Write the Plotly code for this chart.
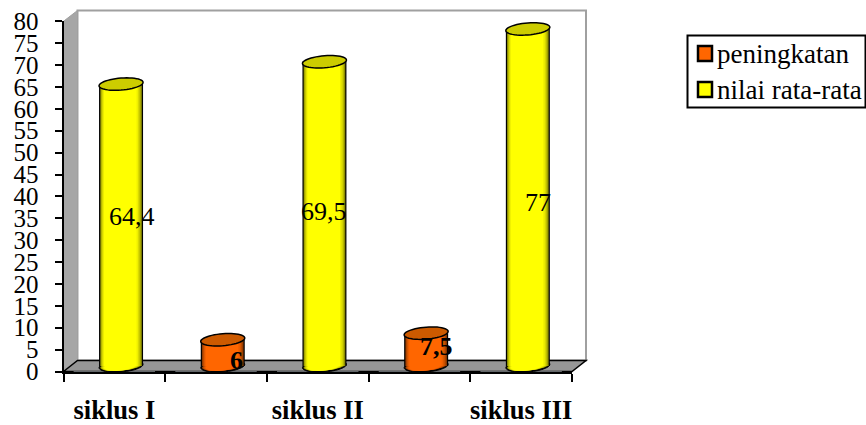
import numpy as np
import plotly.graph_objects as go

categories = ["siklus I", " ", "siklus II", "  ", "siklus III"]
peningkatan = [None, 6, None, 7.5, None]
nilai_rata = [64.4, None, 69.5, None, 77]
series_names = ["peningkatan", "nilai rata-rata"]
peningkatan_labels = [None, "6", None, "7,5", None]
nilai_labels = ["64,4", None, "69,5", None, "77"]
y_ticks = list(range(0, 85, 5))

W, H = 866, 425
FONT = "Liberation Serif"


def fx(p):
    return p / W


def fy(p):
    return 1 - p / H


X0, X1, Y0, Y80 = 63.5, 572.0, 371.5, 21.3
DX, DY = 6.7, -5.5
UNIT_Y = (Y0 - Y80) / 80
UNIT_X = (X1 - X0) / 5
LOW = -5  # extra room under the base so the round cylinder bottoms are not clipped

BAR_PX = 44.0
# (left inset px, right inset px, shade 0 = dark edge .. 1 = bright body)
LAYERS = [(1.2, 1.2, 0.55), (2.0, 2.4, 0.72), (3.0, 3.6, 0.85), (4.0, 5.0, 0.94), (5.0, 6.5, 1.0)]
YELLOW = (255, 255, 0)
ORANGE = (255, 102, 0)


def shade(c, f):
    return "rgb(%d,%d,%d)" % tuple(int(v * f) for v in c)


def ellipse_path(cx, cy, a_px, b_px=6.0, tilt_px=1.7):
    t = np.linspace(0, 2 * np.pi, 49)[:-1]
    xs = cx + a_px / UNIT_X * np.cos(t)
    ys = cy + (b_px * np.sin(t) + tilt_px * np.cos(t)) / UNIT_Y
    return "M" + " L".join(f"{x:.4f},{y:.4f}" for x, y in zip(xs, ys)) + " Z"


fig = go.Figure()

# carries the category axis
fig.add_trace(go.Bar(x=categories, y=[0] * 5, xaxis="x", yaxis="y", showlegend=False,
                     marker_color="rgba(0,0,0,0)", hoverinfo="skip"))

idx = list(range(len(categories)))
shapes = []
annotations = []


def poly(points, fill, line=None, lw=0):
    d = "M" + " L".join(f"{fx(a):.5f},{fy(b):.5f}" for a, b in points) + " Z"
    shapes.append(dict(type="path", path=d, xref="paper", yref="paper", layer="below",
                       fillcolor=fill, line=dict(color=line or fill, width=lw)))


# 3-D walls and floor
poly([(77.5, 10.5), (586, 10.5), (586, 360.5), (77.5, 360.5)], "white", "#a0a0a0", 2)
poly([(63.5, 21.3), (77.5, 10.5), (77.5, 360.5), (63.5, 371.5)], "#a6a6a6", "#a0a0a0", 1)
poly([(63.5, 371.5), (77.5, 360.5), (586, 360.5), (572, 371.5)], "#969696", "#000000", 1.5)


for values, color, top in ((peningkatan, ORANGE, "#cc5a00"), (nilai_rata, YELLOW, "#cccc00")):
    fig.add_trace(go.Bar(x=idx, y=values, xaxis="x2", yaxis="y2", width=BAR_PX / UNIT_X,
                         marker=dict(color="black", line_width=0), showlegend=False, hoverinfo="skip"))
    for i, v in zip(idx, values):
        if v is None:
            continue
        shapes.append(dict(type="path", path=ellipse_path(i, 0, BAR_PX / 2), xref="x2", yref="y2",
                           layer="below", fillcolor="black", line=dict(color="black", width=1)))
    for li, ri, f in LAYERS:
        w = BAR_PX - li - ri
        off = (-BAR_PX / 2 + li) / UNIT_X
        fig.add_trace(go.Bar(x=idx, y=values, xaxis="x2", yaxis="y2", width=w / UNIT_X, offset=off,
                             marker=dict(color=shade(color, f), line_width=0), showlegend=False,
                             hoverinfo="skip"))
        for i, v in zip(idx, values):
            if v is None:
                continue
            c = i + ((li - ri) / 2) / UNIT_X
            shapes.append(dict(type="path", path=ellipse_path(c, 0, w / 2, b_px=4.6, tilt_px=1.7),
                               xref="x2", yref="y2", layer="below", fillcolor=shade(color, f), line_width=0))
    for i, v in zip(idx, values):
        if v is None:
            continue
        shapes.append(dict(type="path", path=ellipse_path(i, v, BAR_PX / 2), xref="x2", yref="y2",
                           layer="above", fillcolor=top, line=dict(color="black", width=1.5)))

# data labels
offsets = {0: (11, 9), 2: (0, 2), 4: (10, -5)}
for i, (lab, v) in enumerate(zip(nilai_labels, nilai_rata)):
    if lab:
        annotations.append(dict(x=i, y=v / 2, xref="x2", yref="y2", text=lab, showarrow=False,
                                xshift=offsets[i][0], yshift=offsets[i][1],
                                font=dict(family=FONT, size=26, color="black")))
offsets_p = {1: (14, -8), 3: (10, 3)}
for i, (lab, v) in enumerate(zip(peningkatan_labels, peningkatan)):
    if lab:
        annotations.append(dict(x=i, y=v / 2, xref="x2", yref="y2", text="<b>%s</b>" % lab, showarrow=False,
                                xshift=offsets_p[i][0], yshift=offsets_p[i][1],
                                font=dict(family=FONT, size=26, color="black")))

# legend box
shapes.append(dict(type="rect", xref="paper", yref="paper", x0=fx(687.5), x1=fx(865.5), y0=fy(35.5), y1=fy(107.5),
                   fillcolor="white", line=dict(color="black", width=2), layer="above"))
for name, col, py0, py1 in ((series_names[0], "#ff6600", 46, 61), (series_names[1], "#ffff00", 82, 97)):
    shapes.append(dict(type="rect", xref="paper", yref="paper", x0=fx(698), x1=fx(712), y0=fy(py0), y1=fy(py1),
                       fillcolor=col, line=dict(color="black", width=2.5), layer="above"))
    annotations.append(dict(x=fx(715), y=fy((py0 + py1) / 2 + 1), xref="paper", yref="paper", xanchor="left",
                            yanchor="middle", text=name, showarrow=False,
                            font=dict(family=FONT, size=27, color="black")))

fig.update_layout(
    width=W, height=H, autosize=False, margin=dict(l=0, r=0, t=0, b=0, pad=0, autoexpand=False),
    paper_bgcolor="white", plot_bgcolor="rgba(0,0,0,0)", barmode="overlay", showlegend=False,
    font=dict(family=FONT, color="black"),
    shapes=shapes, annotations=annotations,
    xaxis=dict(domain=[fx(X0), fx(X1)], type="category", categoryorder="array", categoryarray=categories,
               range=[-0.5, 4.5], showgrid=False, zeroline=False, showline=True, linecolor="black", linewidth=2,
               ticks="outside", ticklen=8, tickwidth=2, tickcolor="black", tickson="boundaries", dtick=1,
               tickangle=0, tickfont=dict(family=FONT, size=26.5, color="black", weight="bold"),
               ticklabelstandoff=14, anchor="y"),
    yaxis=dict(domain=[fy(Y0), fy(Y80)], range=[0, 80], tickmode="array", tickvals=y_ticks,
               ticktext=[str(t) for t in y_ticks], showgrid=False, zeroline=False, showline=True,
               linecolor="black", linewidth=2, ticks="outside", ticklen=7, tickwidth=2, tickcolor="black",
               tickfont=dict(family=FONT, size=25, color="black"), ticklabelstandoff=11, anchor="x"),
    xaxis2=dict(domain=[fx(X0 + DX), fx(X1 + DX)], range=[-0.5, 4.5], visible=False, anchor="y2"),
    yaxis2=dict(domain=[fy(Y0 + DY - LOW * UNIT_Y), fy(Y80 + DY)], range=[LOW, 80], visible=False, anchor="x2"),
)

fig.write_html("out.html", config=dict(displayModeBar=False),
               post_script="document.body.style.margin='0';document.body.style.overflow='hidden';")
